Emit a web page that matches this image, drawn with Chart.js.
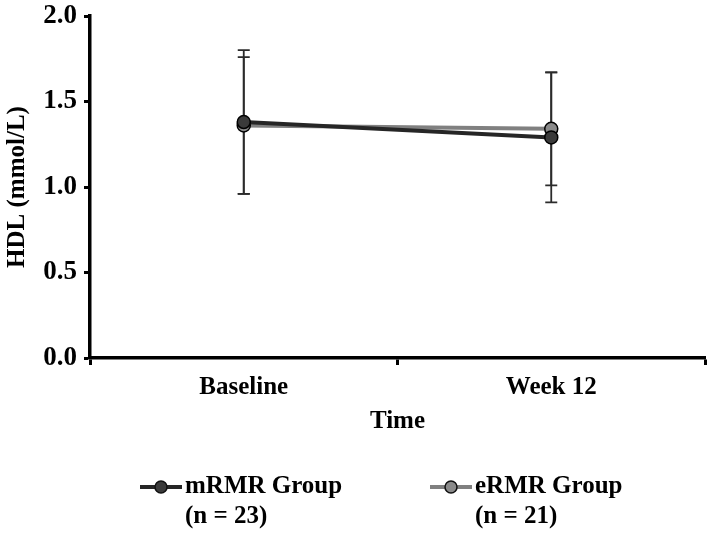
<!DOCTYPE html>
<html>
<head>
<meta charset="utf-8">
<script src="https://cdn.jsdelivr.net/npm/chart.js@4"></script>
<style>
  body { margin: 0; background: #fff; }
  #wrap { width: 715px; height: 533px; }
</style>
</head>
<body>
<div id="wrap"><canvas id="hdl" width="715" height="533"></canvas></div>
<script>
const timepoints = ['Baseline', 'Week 12'];
const mrmrMean = [1.38, 1.29];
const mrmrSD = [0.42, 0.38];
const ermrMean = [1.36, 1.34];
const ermrSD = [0.40, 0.33];
const groupNames = ['mRMR Group', 'eRMR Group'];
const groupN = ['(n = 23)', '(n = 21)'];
const yTicks = [0, 0.5, 1.0, 1.5, 2.0];

const serif = '"Liberation Serif", "Times New Roman", serif';

// error bars drawn from the scales, behind the markers
const errorBars = {
    id: 'errorBars',
    beforeDatasetsDraw(chart) {
        const ctx = chart.ctx;
        const y = chart.scales.y;
        ctx.save();
        ctx.strokeStyle = '#2b2b2b';
        ctx.lineWidth = 1.8;
        chart.data.datasets.forEach((ds, i) => {
            const meta = chart.getDatasetMeta(i);
            meta.data.forEach((pt, j) => {
                const top = y.getPixelForValue(ds.data[j] + ds.sd[j]);
                const bot = y.getPixelForValue(ds.data[j] - ds.sd[j]);
                ctx.beginPath();
                ctx.moveTo(pt.x, top); ctx.lineTo(pt.x, bot);
                ctx.moveTo(pt.x - 6, top); ctx.lineTo(pt.x + 6, top);
                ctx.moveTo(pt.x - 6, bot); ctx.lineTo(pt.x + 6, bot);
                ctx.stroke();
            });
        });
        ctx.restore();
    }
};

// two-line legend under the axis title
const bottomLegend = {
    id: 'bottomLegend',
    afterDraw(chart) {
        const ctx = chart.ctx;
        const starts = [140, 430];
        ctx.save();
        ctx.font = 'bold 25px ' + serif;
        ctx.textBaseline = 'middle';
        ctx.textAlign = 'left';
        chart.data.datasets.forEach((ds, i) => {
            const x0 = starts[i];
            const yy = 487;
            ctx.strokeStyle = ds.borderColor;
            ctx.lineWidth = 4;
            ctx.beginPath();
            ctx.moveTo(x0, yy); ctx.lineTo(x0 + 42, yy);
            ctx.stroke();
            ctx.beginPath();
            ctx.arc(x0 + 21, yy, 6, 0, Math.PI * 2);
            ctx.fillStyle = ds.pointBackgroundColor;
            ctx.fill();
            ctx.lineWidth = 1.5;
            ctx.strokeStyle = '#111';
            ctx.stroke();
            ctx.fillStyle = '#000';
            ctx.fillText(ds.label[0], x0 + 45, yy);
            ctx.fillText(ds.label[1], x0 + 45, yy + 30);
        });
        ctx.restore();
    }
};

const ctx = document.getElementById('hdl').getContext('2d');
const hdlChart = new Chart(ctx, {
    type: 'line',
    data: {
        labels: timepoints,
        datasets: [{
            label: [groupNames[0], groupN[0]],
            data: mrmrMean,
            sd: mrmrSD,
            borderColor: '#262626',
            borderWidth: 4,
            pointRadius: 6.5,
            pointBackgroundColor: '#3a3a3a',
            pointBorderColor: '#000',
            pointBorderWidth: 1.5
        }, {
            label: [groupNames[1], groupN[1]],
            data: ermrMean,
            sd: ermrSD,
            borderColor: '#808080',
            borderWidth: 4,
            pointRadius: 6.5,
            pointBackgroundColor: '#8a8a8a',
            pointBorderColor: '#000',
            pointBorderWidth: 1.5
        }]
    },
    options: {
        responsive: false,
        animation: false,
        layout: { padding: { top: 16, right: 10, bottom: 92, left: 0 } },
        plugins: { legend: { display: false }, tooltip: { enabled: false } },
        scales: {
            x: {
                offset: true,
                grid: { offset: true, drawOnChartArea: false, tickLength: 7, tickColor: '#000', tickWidth: 3 },
                border: { color: '#000', width: 3.5 },
                ticks: { color: '#000', padding: 8, font: { family: serif, size: 25, weight: 'bold' } },
                title: { display: true, text: 'Time', color: '#000', padding: 4, font: { family: serif, size: 25, weight: 'bold' } },
                afterFit(scale) { scale.height = 83; }
            },
            y: {
                min: 0,
                max: 2,
                afterBuildTicks(scale) { scale.ticks = yTicks.map(v => ({ value: v })); },
                grid: { drawOnChartArea: false, tickLength: 6, tickColor: '#000', tickWidth: 3 },
                border: { color: '#000', width: 3.5 },
                ticks: {
                    color: '#000', padding: 7,
                    font: { family: serif, size: 27, weight: 'bold' },
                    callback: v => v.toFixed(1)
                },
                title: { display: true, text: 'HDL (mmol/L)', color: '#000', padding: 3, font: { family: serif, size: 25, weight: 'bold' } },
                afterFit(scale) {
                    scale.width = 90;
                    scale.paddingTop = 0;
                    scale.paddingBottom = 0;
                }
            }
        }
    },
    plugins: [errorBars, bottomLegend]
});
</script>
</body>
</html>
